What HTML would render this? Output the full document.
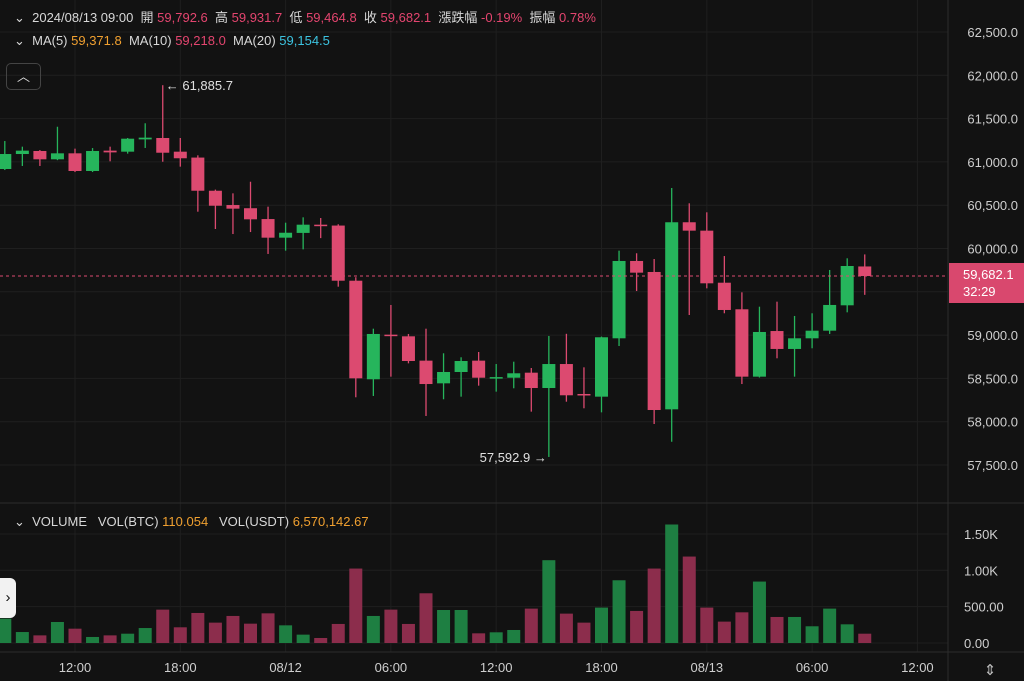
<!DOCTYPE html>
<html><head><meta charset="utf-8">
<style>
html,body{margin:0;padding:0;background:#121212;overflow:hidden}
body{width:1024px;height:681px;position:relative;font-family:"Liberation Sans","Noto Sans CJK TC",sans-serif}
.t{position:absolute;font-size:13px;color:#d8d8d8;white-space:nowrap}
.r{color:#e4456f}.o{color:#f0a030}.c{color:#3cc3e0}
</style></head>
<body>
<svg id="chart" width="1024" height="681" style="position:absolute;left:0;top:0"></svg>
<div class="t" style="left:14px;top:7px">⌄&nbsp; 2024/08/13 09:00&nbsp; 開 <span class="r">59,792.6</span>&nbsp; 高 <span class="r">59,931.7</span>&nbsp; 低 <span class="r">59,464.8</span>&nbsp; 收 <span class="r">59,682.1</span>&nbsp; 漲跌幅 <span class="r">-0.19%</span>&nbsp; 振幅 <span class="r">0.78%</span></div>
<div class="t" style="left:14px;top:33px">⌄&nbsp; MA(5) <span class="o">59,371.8</span>&nbsp; MA(10) <span class="r">59,218.0</span>&nbsp; MA(20) <span class="c">59,154.5</span></div>
<div class="t" style="left:14px;top:514px">⌄&nbsp; VOLUME&nbsp;&nbsp; VOL(BTC) <span class="o">110.054</span>&nbsp;&nbsp; VOL(USDT) <span class="o">6,570,142.67</span></div>
<div style="position:absolute;left:6px;top:63px;width:33px;height:25px;border:1px solid #444;border-radius:5px;color:#ddd;font-size:13px;text-align:center;line-height:25px">︿</div>
<div style="position:absolute;left:0;top:578px;width:16px;height:40px;background:#f2f2f2;border-radius:0 6px 6px 0;color:#111;font-size:15px;line-height:40px;text-align:center">›</div>
<div style="position:absolute;left:949px;top:263px;width:75px;height:40px;background:#d9486e;color:#fff;font-size:13px;line-height:17px;padding-top:3px;box-sizing:border-box;padding-left:14px">59,682.1<br>32:29</div>
<script>
const opens=[60918,61091,61126,61030,61099,60895,61130,61118,61260,61276,61118,61050,60667,60502,60465,60340,60125,60180,60275,60265,59628,58490,59005,58986,58705,58443,58574,58705,58505,58508,58566,58389,58666,58320,58289,58963,59856,59729,58143,60303,60206,59605,59298,58520,59047,58840,58963,59051,59344,59792.6];
const highs=[61241,61176,61137,61406,61153,61160,61176,61276,61446,61885.7,61276,61076,60680,60637,60771,60483,60298,60360,60352,60280,59668,59074,59348,59013,59074,58790,58744,58805,58666,58693,58620,58990,59015,58628,58983,59975,59945,59879,60699,60522,60418,59913,59494,59328,59386,59221,59252,59752,59887,59931.7];
const lows=[60906,60953,60953,61020,60883,60883,61007,61095,61161,61002,60945,60425,60225,60167,60190,59937,59975,59990,60120,59559,58282,58297,58520,58674,58066,58259,58289,58416,58347,58386,58116,57592.9,58231,58155,58108,58874,59509,57974,57769,59232,59540,59252,58435,58510,58732,58520,58848,59013,59263,59464.8];
const closes=[61091,61130,61030,61099,60895,61126,61110,61268,61280,61106,61042,60667,60494,60460,60337,60125,60182,60275,60260,59628,58501,59013,58990,58701,58435,58574,58701,58508,58515,58559,58389,58666,58305,58305,58975,59856,59721,58135,60303,60206,59598,59290,58520,59036,58840,58963,59051,59348,59798,59682.1];
const volumes=[335,151,105,289,197,83,105,128,206,459,216,413,280,372,266,408,243,115,69,262,1024,372,459,262,684,454,454,133,147,179,473,1139,404,280,487,863,441,1024,1630,1189,487,294,422,845,358,358,230,473,257,128];
const priceTicks=[62500,62000,61500,61000,60500,60000,59500,59000,58500,58000,57500];
const volTicks=[1500,1000,500,0];
const volTickLabels=["1.50K","1.00K","500.00","0.00"];
const timeLabels=["12:00","18:00","08/12","06:00","12:00","18:00","08/13","06:00","12:00"];
const lastPrice=59682.1;

const svg=document.getElementById('chart');const NS='http://www.w3.org/2000/svg';
function py(p){return 32+(62500-p)*0.0866;}
function vy(v){return 643-v*0.0727;}
function xi(i){return 4.8+i*17.55;}
function tx(k){return 75+k*105.3;}
function mk(tag,a){const e=document.createElementNS(NS,tag);for(const k in a)e.setAttribute(k,a[k]);svg.appendChild(e);return e;}
const G='#26b55c',R='#dc4a70',GV='#1e7f42',RV='#8c2d4c';
// grid
priceTicks.forEach((p,i)=>{const l=mk('line',{x1:0,x2:948,y1:py(p),y2:py(p),stroke:'#1f1f1f'});

const t=mk('text',{x:1018,y:py(p)+5,'text-anchor':'end',fill:'#cfcfcf','font-size':13,'font-family':'Liberation Sans'});t.textContent=p.toLocaleString('en-US',{minimumFractionDigits:1});
});
volTicks.forEach((v,i)=>{const l=mk('line',{x1:0,x2:948,y1:vy(v),y2:vy(v),stroke:'#1f1f1f'});

const t=mk('text',{x:964,y:vy(v)+5,fill:'#cfcfcf','font-size':13,'font-family':'Liberation Sans'});t.textContent=volTickLabels[i];
});
timeLabels.forEach((s,k)=>{const l=mk('line',{x1:tx(k),x2:tx(k),y1:0,y2:652,stroke:'#1f1f1f'});

const t=mk('text',{x:tx(k),y:672,'text-anchor':'middle',fill:'#cfcfcf','font-size':13,'font-family':'Liberation Sans'});t.textContent=s;
});
[[0,1024,503,503],[0,1024,652,652],[948,948,0,681]].forEach(a=>{const l=mk('line',{x1:a[0],x2:a[1],y1:a[2],y2:a[3],stroke:'#2c2c2c'});
});
// volume bars
volumes.forEach((v,i)=>{const up=closes[i]>=opens[i];const r=mk('rect',{x:xi(i)-6.5,y:vy(v),width:13,height:643-vy(v),fill:up?GV:RV});
});
// candles
opens.forEach((o,i)=>{const c=closes[i],up=c>=o,col=up?G:R;
const w=mk('line',{x1:xi(i),x2:xi(i),y1:py(highs[i]),y2:py(lows[i]),stroke:col,'stroke-width':1.3});

const top=py(Math.max(o,c)),h=Math.max(1.5,Math.abs(py(o)-py(c)));
const b=mk('rect',{x:xi(i)-6.5,y:top,width:13,height:h,fill:col});
});
// last price line
const lp=mk('line',{x1:0,x2:948,y1:py(lastPrice),y2:py(lastPrice),stroke:R,'stroke-dasharray':'3,3','stroke-width':1});

// high/low annotations
let hi=highs.indexOf(Math.max(...highs)),lo=lows.indexOf(Math.min(...lows));
const ht=mk('text',{x:xi(hi)+3,y:py(highs[hi])+5,fill:'#e0e0e0','font-size':13,'font-family':'Liberation Sans'});ht.textContent='← '+highs[hi].toLocaleString('en-US',{minimumFractionDigits:1});

const lt=mk('text',{x:xi(lo)-2,y:py(lows[lo])+5,'text-anchor':'end',fill:'#e0e0e0','font-size':13,'font-family':'Liberation Sans'});lt.textContent=lows[lo].toLocaleString('en-US',{minimumFractionDigits:1})+' →';

const ic=mk('text',{x:990,y:675,'text-anchor':'middle',fill:'#bbb','font-size':15,'font-family':'DejaVu Sans'});ic.textContent='⇕';

</script>
</body></html>
